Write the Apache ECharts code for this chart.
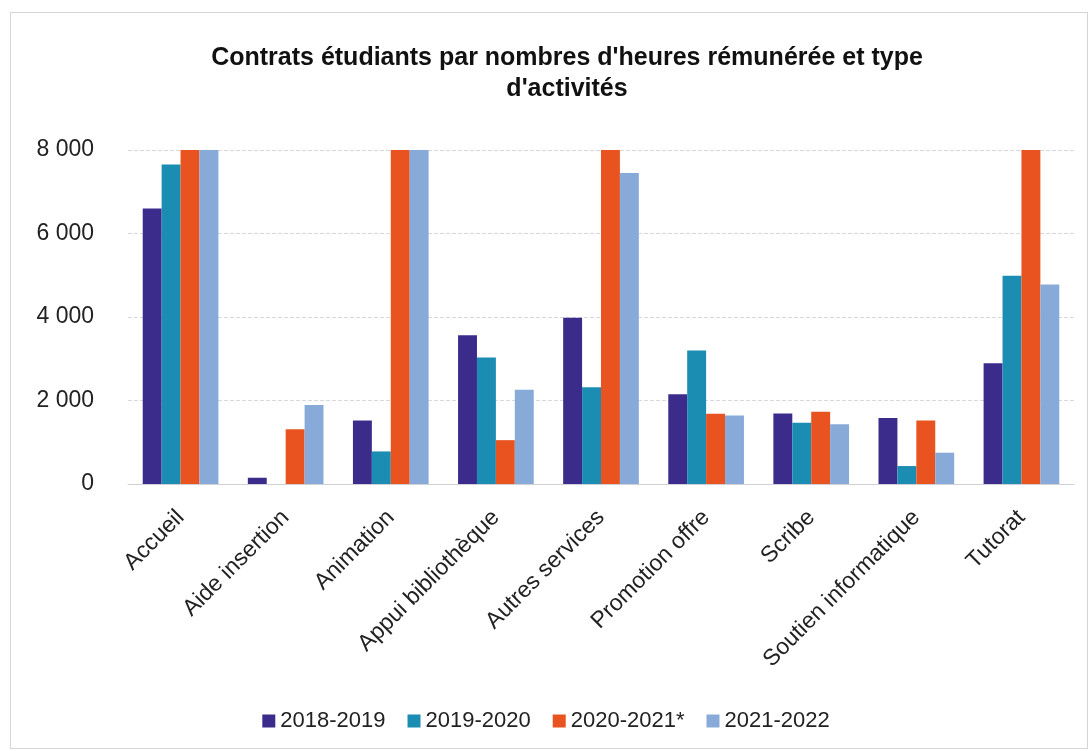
<!DOCTYPE html>
<html>
<head>
<meta charset="utf-8">
<script src="https://cdn.jsdelivr.net/npm/echarts@6/dist/echarts.min.js"></script>
<style>
    html, body {
        margin: 0;
        padding: 0;
        background: #fff;
    }

    .frame {
        position: absolute;
        left: 10px;
        top: 12px;
        width: 1078px;
        height: 737px;
        border: 1px solid #d4d4dc;
        box-sizing: border-box;
    }

    #chart {
        width: 1092px;
        height: 751px;
    }
</style>
</head>
<body>
<div class="frame"></div>
<div id="chart"></div>
<script>
    //类别
    const categories = ['Accueil', 'Aide insertion', 'Animation', 'Appui bibliothèque', 'Autres services',
        'Promotion offre', 'Scribe', 'Soutien informatique', 'Tutorat']
    //每一年的数据
    const y2018 = [6600, 150, 1520, 3560, 3980, 2150, 1690, 1580, 2890]
    const y2019 = [7650, 0, 780, 3030, 2320, 3200, 1470, 430, 4990]
    const y2020 = [8000, 1310, 8000, 1050, 8000, 1680, 1730, 1520, 8000]
    const y2021 = [8000, 1890, 8000, 2260, 7450, 1640, 1430, 750, 4780]
    const seriesNames = ['2018-2019', '2019-2020', '2020-2021*', '2021-2022']
    const yTicks = [0, 2000, 4000, 6000, 8000]

    const colors = ['#3b2c8c', '#1b8cb2', '#e8531f', '#88aad8']
    const font = "'Liberation Sans', sans-serif"

    const myEcharts = echarts.init(document.getElementById('chart'))
    myEcharts.setOption({
        animation: false,
        color: colors,
        title: {
            text: "Contrats étudiants par nombres d'heures rémunérée et type\nd'activités",
            left: 562,
            textAlign: 'center',
            top: 38,
            textStyle: {
                fontFamily: font,
                fontWeight: 'bold',
                fontSize: 25,
                lineHeight: 31,
                color: '#111'
            }
        },
        legend: {
            bottom: 14,
            left: 'center',
            itemWidth: 13,
            itemHeight: 13,
            itemGap: 22,
            icon: 'rect',
            textStyle: {
                fontFamily: font,
                fontSize: 22,
                color: '#222'
            },
            data: seriesNames
        },
        grid: {
            left: 128,
            right: 18,
            top: 150,
            bottom: 267
        },
        xAxis: {
            type: 'category',
            data: categories,
            axisTick: { show: false },
            axisLine: { lineStyle: { color: '#d0d0d8' } },
            axisLabel: {
                rotate: 45,
                interval: 0,
                margin: 30,
                fontFamily: font,
                fontSize: 23,
                color: '#222'
            }
        },
        yAxis: {
            type: 'value',
            min: yTicks[0],
            max: yTicks[yTicks.length - 1],
            interval: 2000,
            axisLine: { show: false },
            axisTick: { show: false },
            splitLine: { lineStyle: { color: '#d8d8e0', type: 'dashed' } },
            axisLabel: {
                margin: 34,
                fontFamily: font,
                fontSize: 23,
                color: '#222',
                formatter: v => String(v).replace(/\B(?=(\d{3})+(?!\d))/g, ' ')
            }
        },
        series: [y2018, y2019, y2020, y2021].map((d, i) => ({
            name: seriesNames[i],
            type: 'bar',
            data: d,
            barGap: '0%',
            barCategoryGap: '28%',
            itemStyle: { color: colors[i] }
        }))
    })
</script>
</body>
</html>
